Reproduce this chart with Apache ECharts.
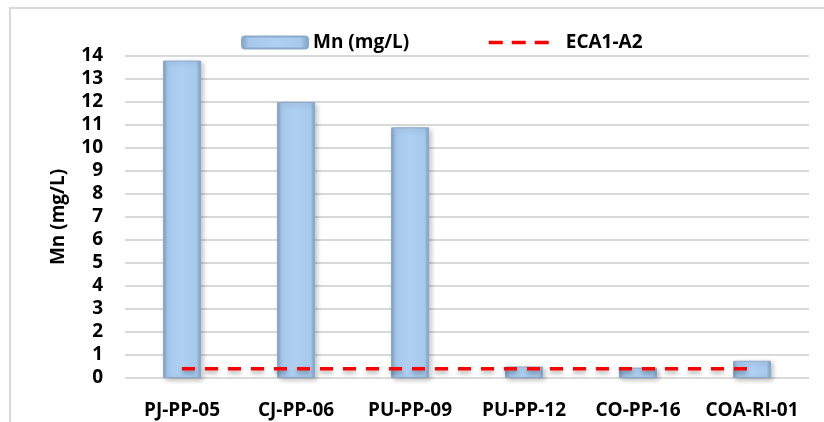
<!DOCTYPE html>
<html>
<head>
<meta charset="utf-8">
<script src="https://cdn.jsdelivr.net/npm/echarts@6/dist/echarts.min.js"></script>
<style>
  html, body { margin: 0; padding: 0; background: #fff; }
  #chart { width: 824px; height: 422px; }
</style>
</head>
<body>
<div id="chart"></div>
<script>
// Sampling stations and manganese concentrations (mg/L)
const stations = ['PJ-PP-05', 'CJ-PP-06', 'PU-PP-09', 'PU-PP-12', 'CO-PP-16', 'COA-RI-01'];
const mnValues = [13.8, 12.0, 10.9, 0.5, 0.45, 0.75];
// ECA category 1, A2 limit for Mn
const ecaLimit = [0.4, 0.4, 0.4, 0.4, 0.4, 0.4];
const yTicks = [0, 1, 2, 3, 4, 5, 6, 7, 8, 9, 10, 11, 12, 13, 14];

const FONT = 'Open Sans';
const FS = 19;
const chart = echarts.init(document.getElementById('chart'));

const barFill = new echarts.graphic.LinearGradient(0, 0, 1, 0, [
  { offset: 0, color: '#7E9FC4' },
  { offset: 0.12, color: '#A6C9EC' },
  { offset: 0.5, color: '#AED0F2' },
  { offset: 0.88, color: '#A6C9EC' },
  { offset: 1, color: '#7E9FC4' }
]);

const textStyle = { fontFamily: FONT, fontWeight: 'bold', fontSize: FS, color: '#000' };

chart.setOption({
  animation: false,
  graphic: [{
    type: 'rect',
    shape: { x: 10, y: 8, width: 840, height: 440 },
    style: { fill: 'none', stroke: '#D9D9D9', lineWidth: 2 },
    silent: true
  }],
  legend: [{
    data: ['Mn (mg/L)'],
    left: 241,
    top: 33,
    padding: 0,
    itemWidth: 66,
    itemHeight: 12,
    textStyle: textStyle
  }, {
    data: ['ECA1-A2'],
    left: 487,
    top: 33,
    padding: 0,
    itemWidth: 60,
    itemHeight: 14,
    itemStyle: { opacity: 0 },
    lineStyle: { width: 3.5, type: [14, 9], shadowBlur: 0, shadowOffsetY: 0 },
    textStyle: Object.assign({}, textStyle, { padding: [0, 0, 0, 12] })
  }],
  grid: { left: 125, right: 15, top: 56, bottom: 44, containLabel: false },
  xAxis: {
    type: 'category',
    data: stations,
    axisLine: { show: false },
    axisTick: { show: false },
    axisLabel: Object.assign({ margin: 23, interval: 0 }, textStyle)
  },
  yAxis: {
    type: 'value',
    min: yTicks[0],
    max: yTicks[yTicks.length - 1],
    interval: 1,
    name: 'Mn (mg/L)',
    nameLocation: 'middle',
    nameGap: 57,
    nameTextStyle: textStyle,
    axisLine: { show: false },
    axisTick: { show: false },
    axisLabel: Object.assign({ margin: 22 }, textStyle),
    splitLine: { lineStyle: { color: '#D9D9D9', width: 2 } }
  },
  series: [{
    name: 'Mn (mg/L)',
    type: 'bar',
    data: mnValues,
    barWidth: 38,
    itemStyle: {
      color: barFill,
      borderColor: '#8AA9CB',
      borderWidth: 1,
      shadowColor: 'rgba(0,0,0,0.25)',
      shadowBlur: 5,
      shadowOffsetX: 2,
      shadowOffsetY: 2
    }
  }, {
    name: 'ECA1-A2',
    type: 'line',
    data: ecaLimit,
    symbol: 'none',
    z: 5,
    lineStyle: {
      color: '#FF0000',
      width: 3.5,
      type: [13, 10],
      shadowColor: 'rgba(0,0,0,0.3)',
      shadowBlur: 4,
      shadowOffsetY: 3
    },
    itemStyle: { color: '#FF0000' }
  }]
});
</script>
</body>
</html>
